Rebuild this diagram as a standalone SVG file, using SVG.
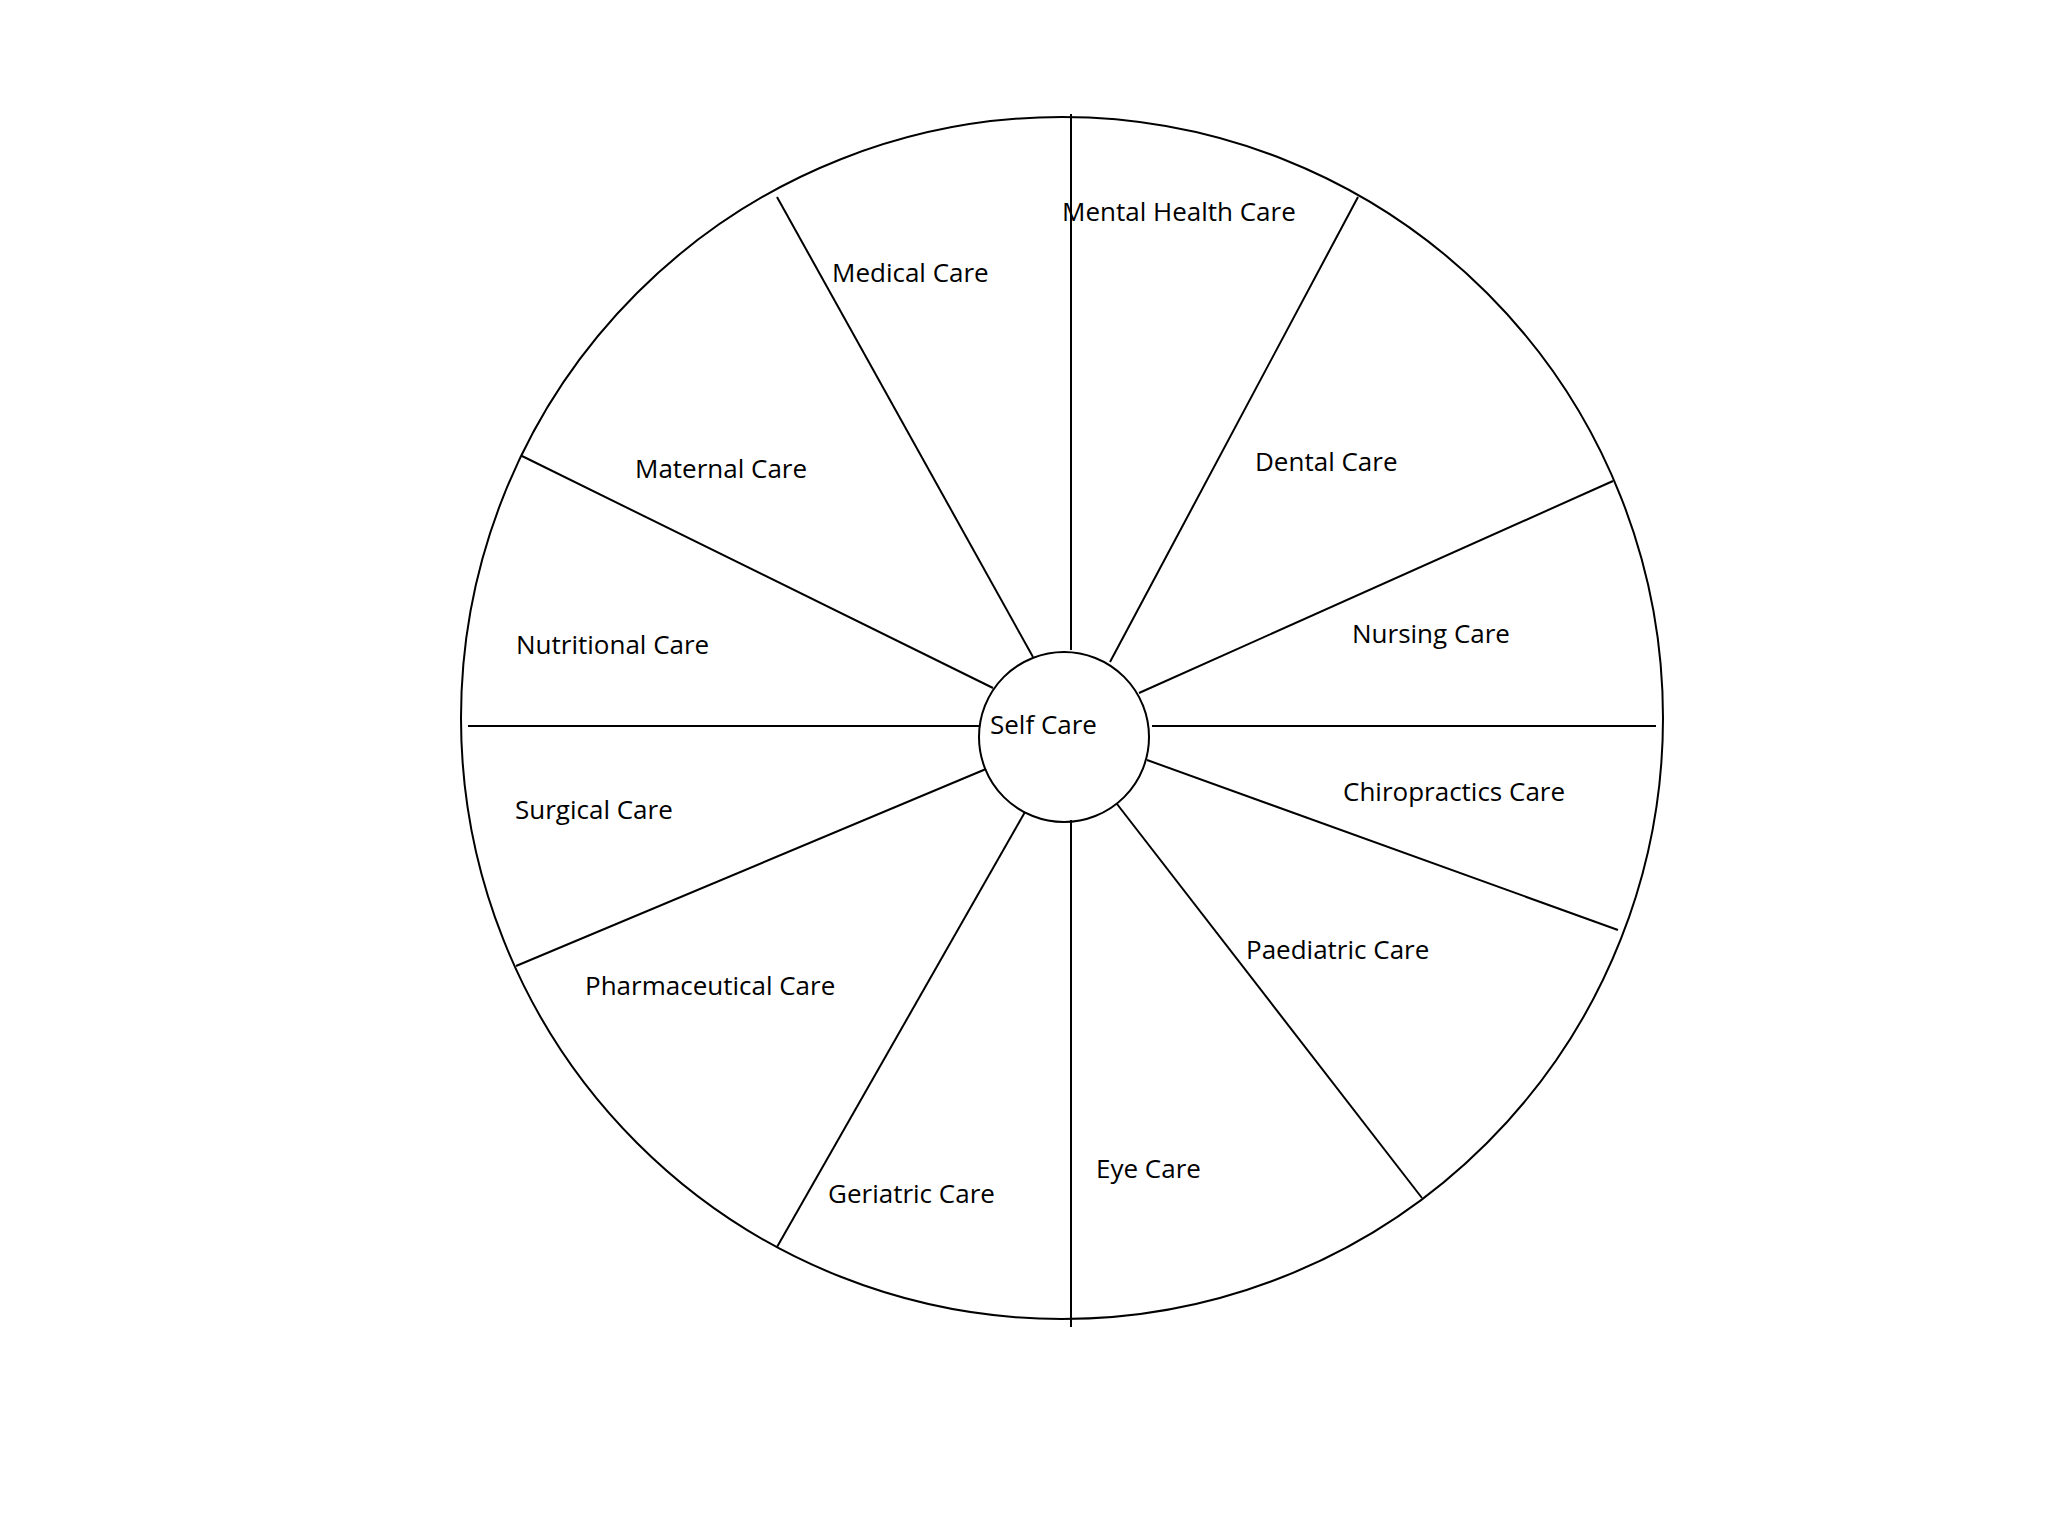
<svg xmlns="http://www.w3.org/2000/svg" width="2048" height="1536" viewBox="0 0 2048 1536">
<style>
.l{stroke:#000;stroke-width:2;fill:none}
text{font-family:"Open Sans","Liberation Sans",sans-serif;font-size:26px;fill:#000}
</style>
<rect width="2048" height="1536" fill="#fff"/>
<g id="wheel"><circle class="l" cx="1062" cy="718" r="601"/></g>
<g id="connectors">
<line class="l" x1="1071" y1="114" x2="1071" y2="650"/>
<line class="l" x1="777" y1="197" x2="1033" y2="657"/>
<line class="l" x1="522" y1="456" x2="993" y2="688"/>
<line class="l" x1="468" y1="726" x2="980" y2="726"/>
<line class="l" x1="516" y1="966" x2="986" y2="769"/>
<line class="l" x1="777" y1="1247" x2="1025" y2="812"/>
<line class="l" x1="1071" y1="820" x2="1071" y2="1327"/>
<line class="l" x1="1117" y1="804" x2="1422" y2="1198"/>
<line class="l" x1="1147" y1="760" x2="1618" y2="930"/>
<line class="l" x1="1152" y1="726" x2="1656" y2="726"/>
<line class="l" x1="1139" y1="693" x2="1613" y2="481"/>
<line class="l" x1="1110" y1="662" x2="1358" y2="197"/>
</g>
<g id="self"><circle class="l" cx="1064" cy="737" r="85" fill="#fff"/><text x="990" y="734">Self Care</text></g>
<g id="labels">
<text x="1062" y="221">Mental Health Care</text>
<text x="832" y="282">Medical Care</text>
<text x="1255" y="471">Dental Care</text>
<text x="635" y="478">Maternal Care</text>
<text x="1352" y="643">Nursing Care</text>
<text x="516" y="654">Nutritional Care</text>
<text x="1343" y="801">Chiropractics Care</text>
<text x="515" y="819">Surgical Care</text>
<text x="1246" y="959">Paediatric Care</text>
<text x="585" y="995">Pharmaceutical Care</text>
<text x="1096" y="1178">Eye Care</text>
<text x="828" y="1203">Geriatric Care</text>
</g>
</svg>
